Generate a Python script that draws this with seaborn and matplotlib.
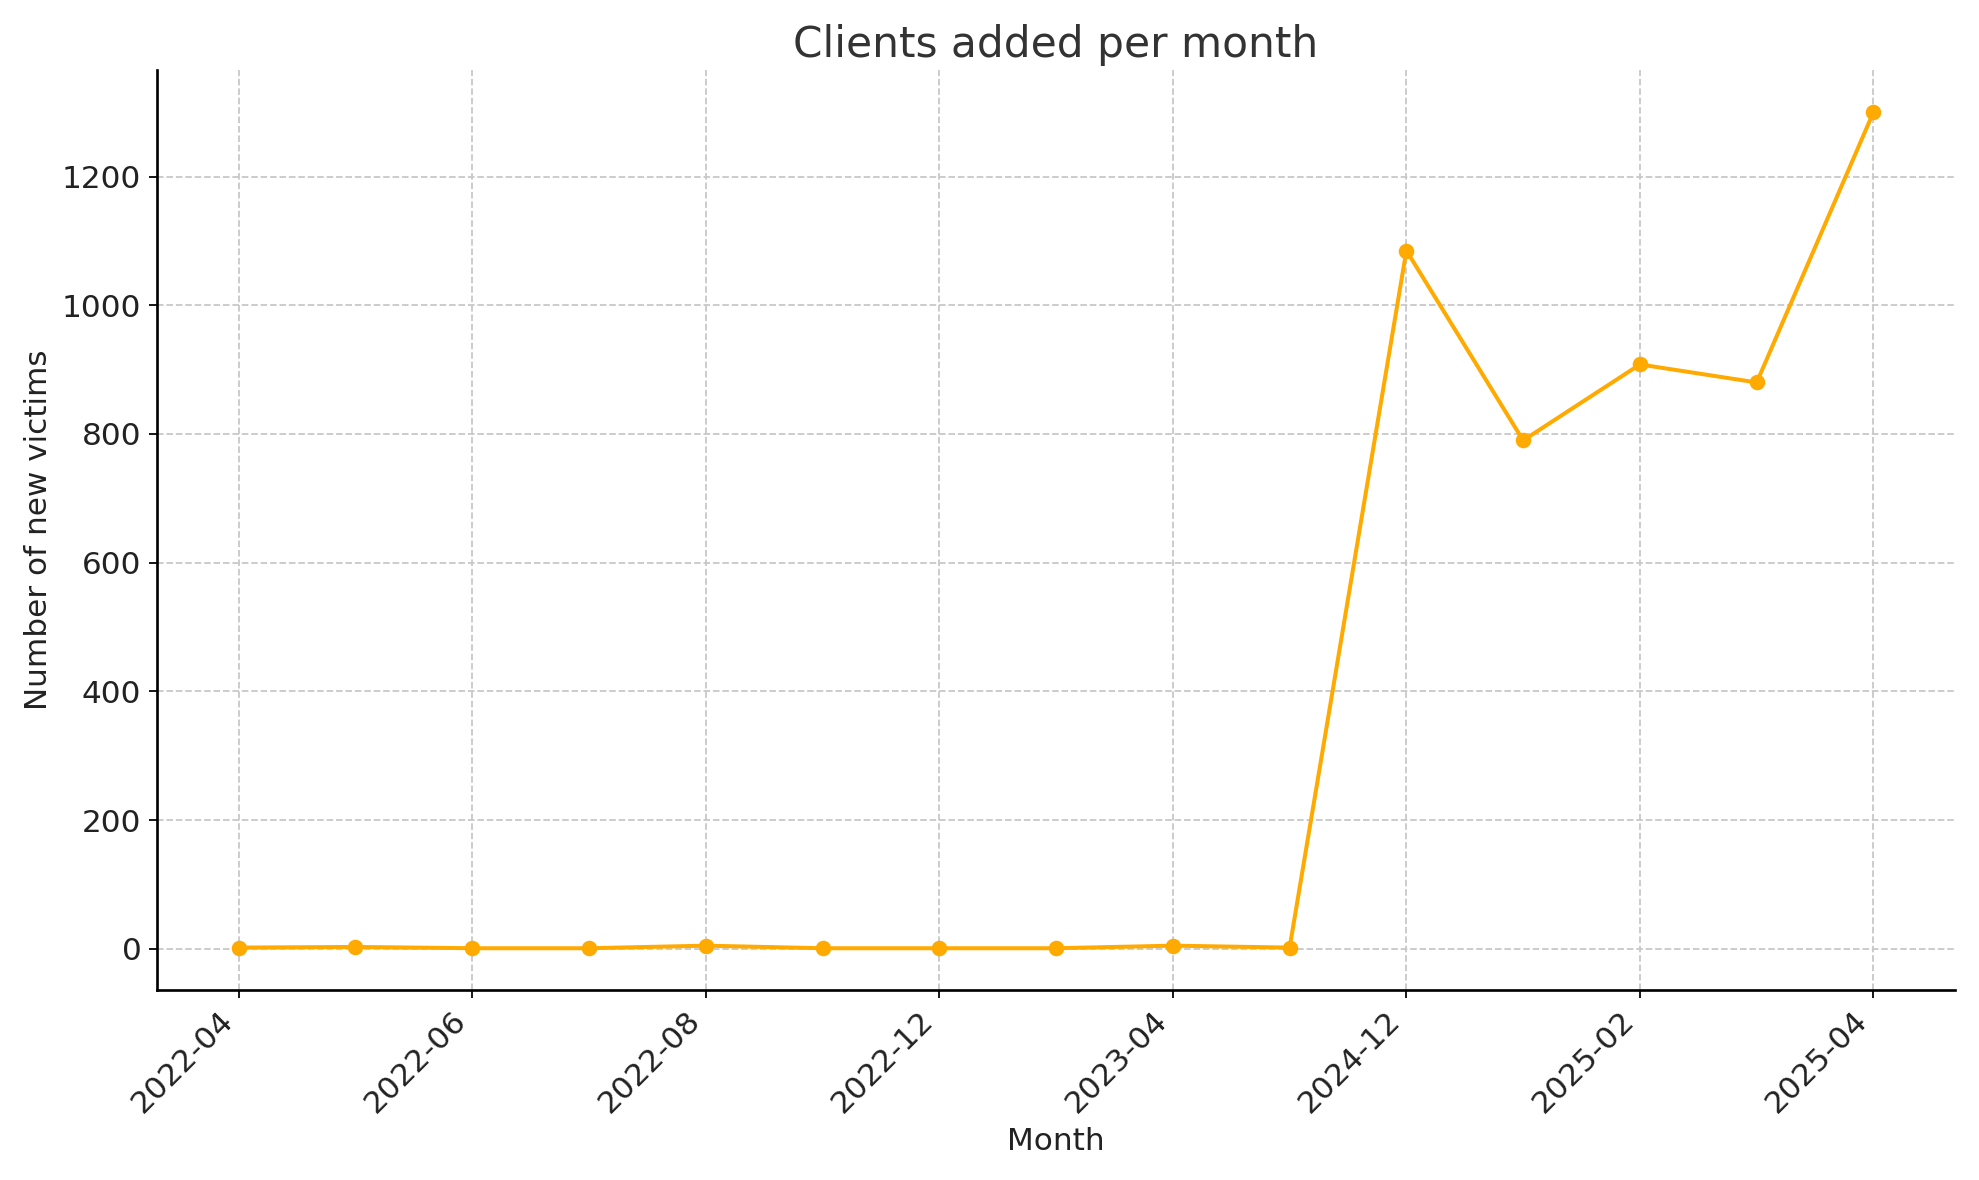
import matplotlib
matplotlib.use("Agg")
import matplotlib.pyplot as plt
import seaborn as sns
import pandas as pd

months = ["2022-04", "2022-05", "2022-06", "2022-07", "2022-08", "2022-10", "2022-12",
          "2023-02", "2023-04", "2023-05", "2024-12", "2025-01", "2025-02", "2025-03", "2025-04"]
victims = [2, 3, 1, 1, 5, 1, 1, 1, 5, 2, 1085, 790, 908, 880, 1300]

df = pd.DataFrame({"Month": months, "Victims": victims})
df["pos"] = range(len(months))

fig, ax = plt.subplots(figsize=(12.37, 7.375), dpi=160)
sns.lineplot(data=df, x="pos", y="Victims", marker="o", color="#FFAA00",
             linewidth=1.8, markersize=7, markeredgewidth=0, ax=ax)
ax.set_xticks(df["pos"][::2])
ax.set_xticklabels(df["Month"][::2], rotation=45, ha="right", fontsize=14, color="#222222")
ax.tick_params(axis="y", labelsize=14, labelcolor="#222222")
ax.set_xlim(-0.7, 14.7)
ax.grid(True, linestyle="--", color="#c8c8c8", linewidth=0.8)
for s in ["top", "right"]:
    ax.spines[s].set_visible(False)
for s in ["left", "bottom"]:
    ax.spines[s].set_linewidth(1.2)
ax.set_title("Clients added per month", fontsize=19, color="#333333")
ax.set_xlabel("Month", fontsize=14, color="#222222")
ax.set_ylabel("Number of new victims", fontsize=14, color="#222222")
fig.tight_layout()
fig.savefig("out.png")
